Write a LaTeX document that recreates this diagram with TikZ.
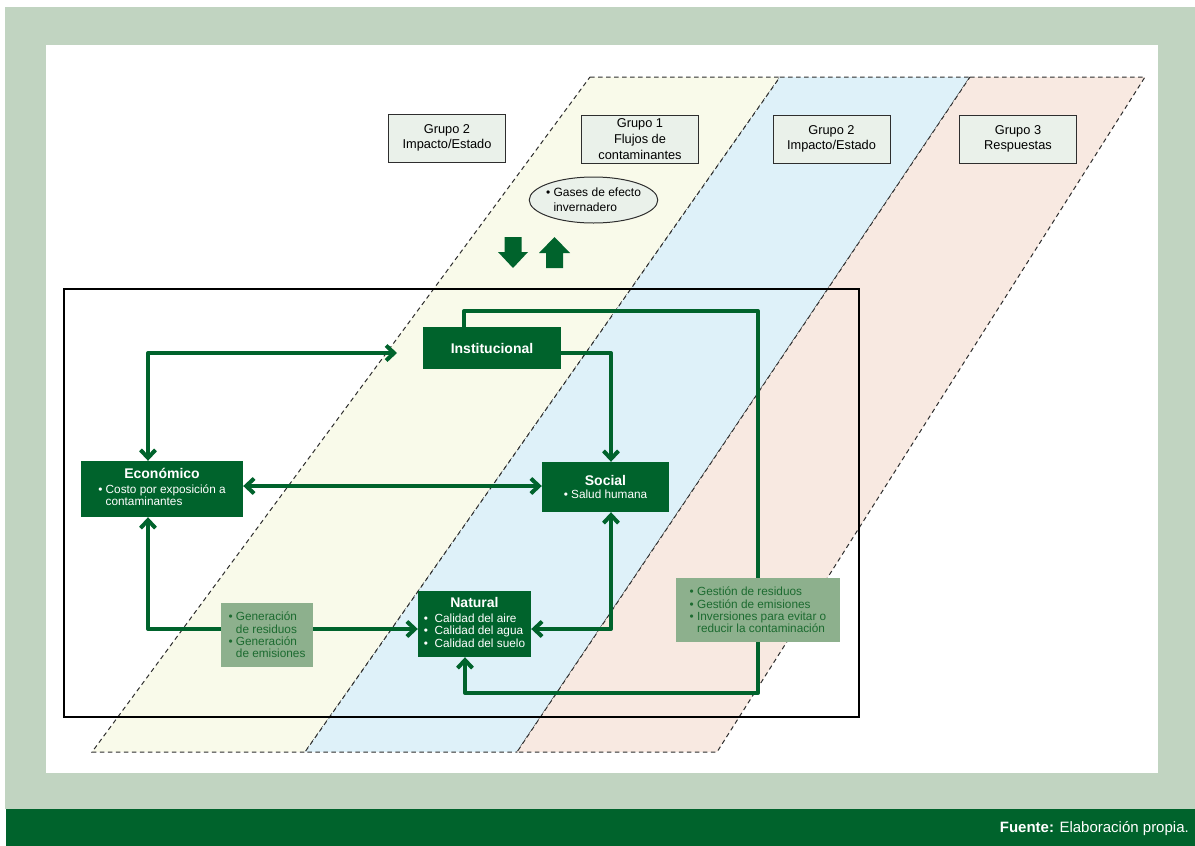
\documentclass[tikz,border=0pt]{standalone}
\usepackage{fontspec}
\setmainfont{Liberation Sans}
\usepackage{xcolor}
\definecolor{frameBg}{HTML}{C1D4C1}
\definecolor{deepGreen}{HTML}{00632C}
\definecolor{paleGreen}{HTML}{8DB08D}
\definecolor{noteInk}{HTML}{1C6B30}
\definecolor{tagBg}{HTML}{EAF1EA}
\definecolor{edgeGray}{HTML}{2E2E2E}
\definecolor{bandYellow}{HTML}{F9FAEA}
\definecolor{bandBlue}{HTML}{DEF1F9}
\definecolor{bandPeach}{HTML}{F8E9E1}
\usetikzlibrary{arrows.meta,positioning,shapes.geometric}
\newcommand{\bsp}{\phantom{\textbullet\ }}
\newcommand{\ttl}[1]{{\fontsize{14}{16}\selectfont\bfseries #1}}
\tikzset{>={Straight Barb[length=8pt,width=15pt]},
  gbox/.style={fill=deepGreen,text=white,align=center,inner sep=0pt,
    font=\fontsize{11.8}{12.4}\selectfont},
  tag/.style={draw=edgeGray,fill=tagBg,line width=1pt,align=center,
    minimum width=117pt,minimum height=48pt,font=\fontsize{12.8}{15.7}\selectfont},
  note/.style={fill=paleGreen,text=noteInk,align=left,inner sep=0pt,
    font=\fontsize{11.8}{12.2}\selectfont},
  flow/.style={deepGreen,line width=4pt,line join=round},
  band/.style={draw=edgeGray,line width=1pt,dash pattern=on 4.5pt off 3.5pt}}

\begin{document}
\begin{tikzpicture}[x=1pt,y=-1pt]
  \useasboundingbox (0,0) rectangle (1195,846);
  \fill[frameBg] (5,7) rectangle (1195,809);
  \fill[deepGreen] (6,809) rectangle (1195,846);
  \fill[white] (46,45) rectangle (1158,773);
  % dashed bands
  \foreach \tl/\tr/\br/\bl/\col in {590/780/305/92/bandYellow,
      780/970/517/305/bandBlue,970/1145/717/517/bandPeach}
    \filldraw[band,fill=\col] (\tl,77) -- (\tr,77) -- (\br,752) -- (\bl,752) -- cycle;
  \draw[line width=1.2pt] (64,289) rectangle (859,717);

  \node[tag] (g2a) at (447,138) {Grupo 2\\Impacto/Estado};
  \node[tag] (g1) at (640,139) {Grupo 1\\Flujos de\\contaminantes};
  \node[tag] (g2b) at (831.5,139) {Grupo 2\\Impacto/Estado};
  \node[tag] (g3) at (1018,139) {Grupo 3\\Respuestas};
  \node[ellipse,draw=edgeGray,fill=tagBg,line width=1pt,inner xsep=-2pt,inner ysep=0pt,
    minimum height=46pt,align=left,font=\fontsize{12}{15}\selectfont]
    (ghg) at (593.5,200) {\textbullet\ Gases de efecto\\\bsp invernadero};
  \fill[deepGreen] (504.5,237) -- (521.5,237) -- (521.5,252) -- (528,252) -- (513,268)
    -- (498,252) -- (504.5,252) -- cycle;
  \fill[deepGreen] (546,268) -- (563,268) -- (563,253) -- (570,253) -- (554.5,237)
    -- (539,253) -- (546,253) -- cycle;

  \node[gbox,minimum width=138pt,minimum height=42pt] (inst) at (492,348) {\ttl{Institucional}};
  \node[gbox,minimum width=162pt,minimum height=56pt] (eco) at (162,489)
    {\ttl{Económico}\\[2pt]\begin{tabular}[t]{@{}l@{}}\textbullet\ Costo por exposición a\\\bsp contaminantes\end{tabular}};
  \node[gbox,minimum width=127pt,minimum height=50pt] (soc) at (605.5,487)
    {\ttl{Social}\\[1pt]\textbullet\ Salud humana};
  \node[gbox,minimum width=113pt,minimum height=66pt] (nat) at (474.5,624)
    {\ttl{Natural}\\[3pt]\begin{tabular}[t]{@{}l@{}}\textbullet\ \ Calidad del aire\\\textbullet\ \ Calidad del agua\\\textbullet\ \ Calidad del suelo\end{tabular}};

  \coordinate (instIn) at (397,353);
  \coordinate (loopTR) at (758,311);
  \coordinate (loopBR) at (758,693);
  \draw[flow,->] ([xshift=-28pt]inst.north) |- (loopTR) -- (loopBR) -| ([xshift=-9.5pt]nat.south);
  \draw[flow,<->] (instIn) -| ([xshift=-14pt]eco.north);
  \draw[flow,->] ([yshift=-5pt]inst.east) -| ([xshift=5.5pt]soc.north);
  \draw[flow,<->] ([yshift=3pt]eco.east) -- ([yshift=3pt]eco.east -| soc.west);
  \draw[flow,<->] ([xshift=-14pt]eco.south) |- ([yshift=-5pt]nat.west);
  \draw[flow,<->] ([xshift=5.5pt]soc.south) |- ([yshift=-5pt]nat.east);

  \node[note,minimum width=92pt,minimum height=64pt] (waste) at (267,635)
    {\textbullet\ Generación\\\bsp de residuos\\\textbullet\ Generación\\\bsp de emisiones};
  \node[note,minimum width=164pt,minimum height=64pt] (resp) at (758,610)
    {\textbullet\ Gestión de residuos\\\textbullet\ Gestión de emisiones\\\textbullet\ Inversiones para evitar o\\\bsp reducir la contaminación};

  \node[anchor=east,text=white,inner sep=0pt,font=\fontsize{15}{18}\selectfont]
    (src) at (1189,829) {\textbf{Fuente:} Elaboración propia.};
\end{tikzpicture}
\end{document}
